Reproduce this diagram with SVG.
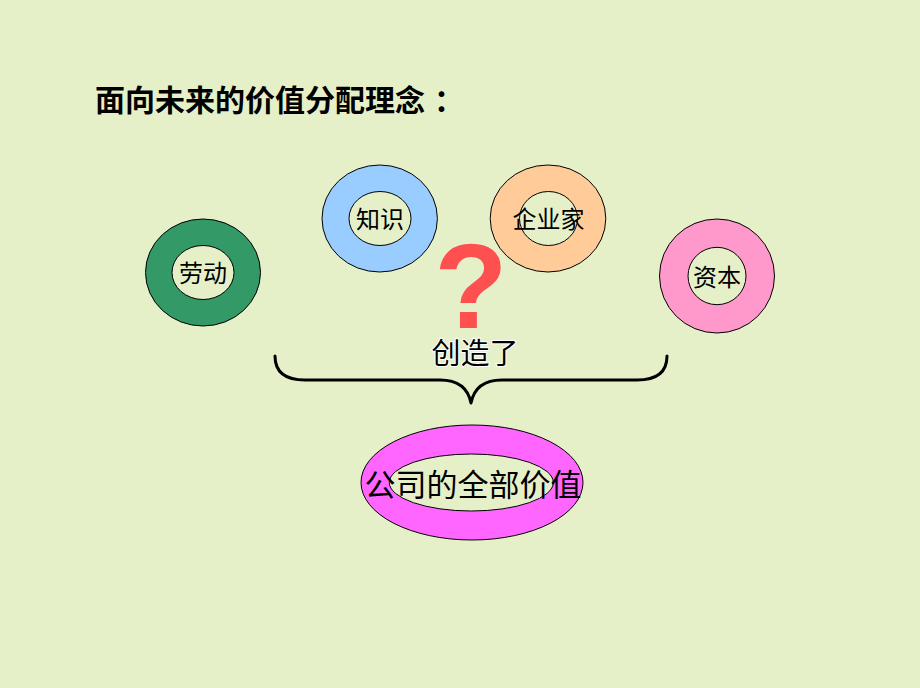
<svg xmlns="http://www.w3.org/2000/svg" width="920" height="688" viewBox="0 0 920 688">
<style>
.ring{stroke:#000;stroke-width:1}
.hole{fill:#E6F0C8;stroke:#000;stroke-width:1}
.lbl{font-family:"Noto Sans CJK SC","Liberation Sans",sans-serif;font-size:24px;fill:#000;text-anchor:middle}
.ttl{font-family:"Noto Sans CJK SC","Liberation Sans",sans-serif;font-size:30px;font-weight:bold;fill:#000}
</style>
<rect x="0" y="0" width="920" height="688" fill="#E6F0C8"/>
<text class="ttl" x="95" y="111">面向未来的价值分配理念<tspan x="434">：</tspan></text>
<g id="node-laodong">
<ellipse class="ring" cx="203" cy="272.5" rx="57.5" ry="53.5" fill="#339966"/>
<ellipse class="hole" cx="203" cy="272.5" rx="31" ry="27"/>
<text class="lbl" x="203" y="282">劳动</text>
</g>
<g id="node-zhishi">
<ellipse class="ring" cx="379.7" cy="218.5" rx="57.7" ry="53.5" fill="#99CCFF"/>
<ellipse class="hole" cx="380" cy="218.5" rx="31" ry="27"/>
<text class="lbl" x="380" y="228">知识</text>
</g>
<g id="node-qiyejia">
<ellipse class="ring" cx="548" cy="218.5" rx="57.8" ry="53.5" fill="#FFCC99"/>
<ellipse class="hole" cx="548.5" cy="218.5" rx="29" ry="27"/>
<text class="lbl" x="548.5" y="228">企业家</text>
</g>
<g id="node-ziben">
<ellipse class="ring" cx="717" cy="276" rx="57.5" ry="57" fill="#FF99CC"/>
<ellipse class="hole" cx="717" cy="276" rx="29" ry="28.7"/>
<text class="lbl" x="717" y="285.5">资本</text>
</g>
<g id="question">
<text x="471" y="328" font-family="Liberation Sans, sans-serif" font-weight="bold" font-size="120" fill="#FF5050" text-anchor="middle">?</text>
</g>
<g id="connectors">
<path d="M275,356 C275,372 285,380 305,380 L440,380 C458,380 468,388 471,403 C474,388 484,380 502,380 L637,380 C657,380 667,372 667,356" fill="none" stroke="#000" stroke-width="3" stroke-linecap="round" stroke-linejoin="round"/>
<text x="475" y="364" font-family="Noto Sans CJK SC, sans-serif" font-size="29" fill="#000" text-anchor="middle" stroke="#fff" stroke-width="2" paint-order="stroke">创造了</text>
</g>
<g id="node-total">
<ellipse class="ring" cx="472" cy="482.5" rx="111" ry="57.5" fill="#FF66FF"/>
<ellipse class="hole" cx="471.3" cy="482.5" rx="82" ry="28.5"/>
<text x="473" y="496" font-family="Noto Sans CJK SC, sans-serif" font-size="31" fill="#000" text-anchor="middle">公司的全部价值</text>
</g>
</svg>
